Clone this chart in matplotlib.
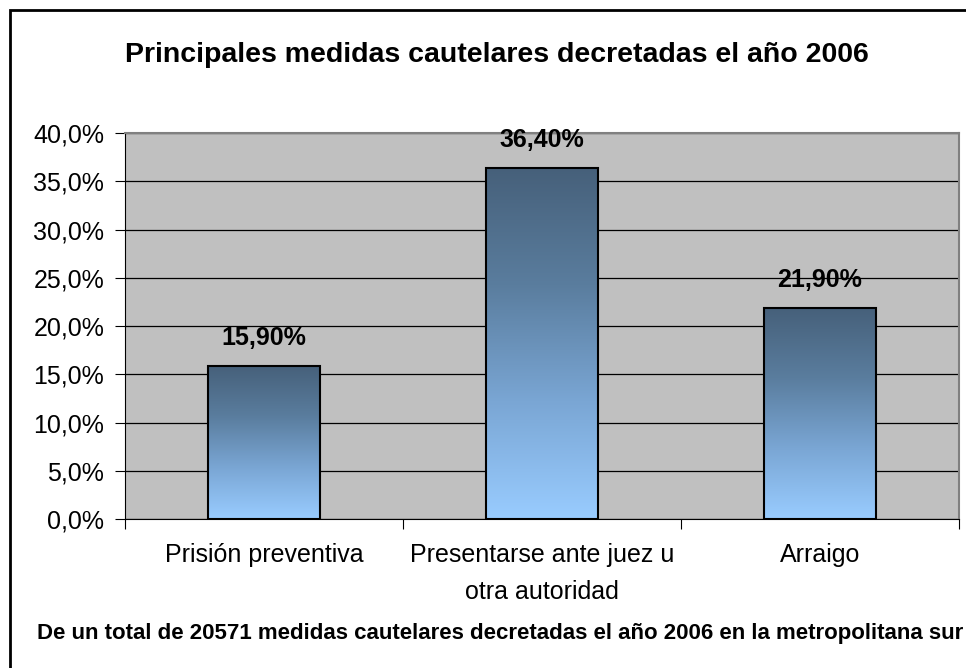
import numpy as np
import matplotlib.pyplot as plt
from matplotlib.patches import Rectangle
from matplotlib.colors import LinearSegmentedColormap
from matplotlib.ticker import FuncFormatter

categorias = ["Prisión preventiva", "Presentarse ante juez u\notra autoridad", "Arraigo"]
valores = [15.9, 36.4, 21.9]
etiquetas = ["15,90%", "36,40%", "21,90%"]
yticks = [0, 5, 10, 15, 20, 25, 30, 35, 40]

plt.rcParams['font.family'] = ['Liberation Sans', 'DejaVu Sans']

fig = plt.figure(figsize=(9.66, 6.68), dpi=100)
ax = fig.add_axes([125/966, 1-519/668, 834/966, 386/668])
ax.set_facecolor('#C0C0C0')

# marco exterior
fig.patches.append(Rectangle((10/966, -0.1), 1.2, (668-10)/668+0.1, transform=fig.transFigure,
                             fill=False, edgecolor='black', lw=2))

cmap = LinearSegmentedColormap.from_list('azul', ['#99CCFF', '#7AA6D4', '#5A7D9E', '#46607A'])
grad = np.linspace(0, 1, 256).reshape(-1, 1)
x = np.arange(len(valores))
ancho = 0.4
for xi, v in zip(x, valores):
    ax.imshow(grad, cmap=cmap, origin='lower', aspect='auto',
              extent=[xi - ancho/2, xi + ancho/2, 0, v], zorder=2)
    ax.add_patch(Rectangle((xi - ancho/2, 0), ancho, v, fill=False,
                           edgecolor='black', lw=1.5, zorder=3))

for xi, v, t in zip(x, valores, etiquetas):
    ax.annotate(t, (xi, v), xytext=(0, 28), textcoords='offset pixels',
                ha='center', va='center', fontsize=18, fontweight='bold')

ax.set_xlim(-0.5, 2.5)
ax.set_ylim(0, 40)
ax.set_yticks(yticks)
ax.yaxis.set_major_formatter(FuncFormatter(lambda v, p: f"{v:.1f}%".replace('.', ',')))
ax.set_xticks([-0.5, 0.5, 1.5, 2.5])
ax.set_xticklabels([])
ax.set_xticks(x, minor=True)
ax.set_xticklabels(categorias, minor=True, fontsize=18, linespacing=1.7)
ax.tick_params(axis='x', which='minor', length=0, pad=17)
ax.tick_params(axis='x', which='major', length=7, direction='out', color='black')
ax.tick_params(axis='y', length=7, direction='out', labelsize=18, pad=8)
ax.grid(axis='y', color='black', lw=0.9, zorder=1)
ax.set_axisbelow(True)

for s in ['top', 'right']:
    ax.spines[s].set_color('#808080')
    ax.spines[s].set_linewidth(1.5)
ax.spines['left'].set_color('black')
ax.spines['bottom'].set_color('black')

fig.text(497/966, 1-55/668, "Principales medidas cautelares decretadas el año 2006",
         ha='center', va='center', fontsize=20.5, fontweight='bold')
fig.text(37/966, 1-634/668,
         "De un total de 20571 medidas cautelares decretadas el año 2006 en la metropolitana sur",
         ha='left', va='center', fontsize=16, fontweight='bold')

fig.savefig('out.png', dpi=100)
